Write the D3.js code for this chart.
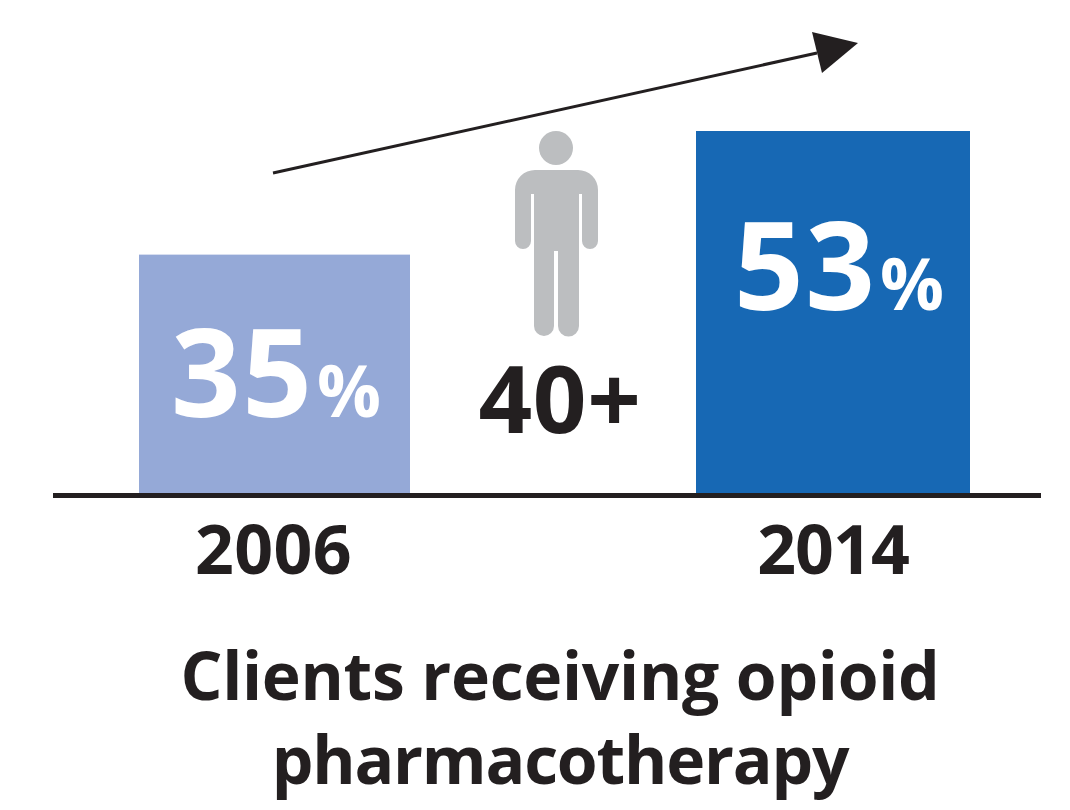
<!DOCTYPE html>
<html><head><meta charset="utf-8">
<script src="https://cdn.jsdelivr.net/npm/d3@7"></script>
<style>html,body{margin:0;padding:0;background:#fff}svg{display:block}text{font-family:"Open Sans",sans-serif;fill:#231f20;font-weight:700}</style>
</head><body><svg id="c" width="1070" height="810"></svg>
<script>
const years = ["2006", "2014"];
const shares = [35, 53];
const barColors = ["#95a9d7", "#1768b4"];
const ageLabel = "40+";
const titleLines = ["Clients receiving opioid", "pharmacotherapy"];

const svg = d3.select("#c");
const baseY = 495;
const y = d3.scaleLinear().domain([0, 53]).range([baseY, 131]);
const barLeft = d3.scaleOrdinal().domain(years).range([139, 696]);
const barWidth = d3.scaleOrdinal().domain(years).range([271, 274]);

svg.selectAll("rect.bar").data(years).join("rect").attr("class", "bar")
  .attr("x", d => barLeft(d)).attr("width", d => barWidth(d))
  .attr("y", (d, i) => y(shares[i])).attr("height", (d, i) => baseY - y(shares[i]))
  .attr("fill", (d, i) => barColors[i]);

svg.append("line").attr("x1", 53).attr("x2", 1041).attr("y1", baseY + 0.5).attr("y2", baseY + 0.5)
  .attr("stroke", "#231f20").attr("stroke-width", 5);

// Value labels: large number with a smaller percent sign
const valueBase = [417, 310];
const valueX = [171, 734];
const percentX = [317, 880];
years.forEach((yr, i) => {
  svg.append("text").attr("x", valueX[i]).attr("y", valueBase[i]).style("fill", "#fff")
    .attr("font-size", 122).attr("letter-spacing", 1.5).text(shares[i]);
  svg.append("text").attr("x", percentX[i]).attr("y", valueBase[i]).style("fill", "#fff")
    .attr("font-size", 71).text("%");
});

svg.selectAll("text.year").data(years).join("text").attr("class", "year")
  .attr("x", (d, i) => [273.5, 833][i]).attr("y", 574).attr("text-anchor", "middle")
  .attr("font-size", 68).attr("letter-spacing", (d, i) => [0.4, -1][i]).text(d => d);

svg.append("text").attr("x", 560).attr("y", 433).attr("text-anchor", "middle")
  .attr("font-size", 94).attr("letter-spacing", 0.6).text(ageLabel);

svg.selectAll("text.title").data(titleLines).join("text").attr("class", "title")
  .attr("x", 560).attr("y", (d, i) => [700, 784][i]).attr("text-anchor", "middle")
  .attr("font-size", 66).attr("letter-spacing", (d, i) => [-0.3, -1.2][i]).text(d => d);

// Trend arrow
svg.append("line").attr("x1", 273).attr("y1", 173).attr("x2", 817).attr("y2", 53)
  .attr("stroke", "#231f20").attr("stroke-width", 3);
svg.append("path").attr("d", "M812,32L858,43L822,73Z").attr("fill", "#231f20");

// Person icon
const g = svg.append("g").attr("fill", "#bcbec0");
g.append("circle").attr("cx", 556).attr("cy", 148).attr("r", 17);
g.append("path").attr("d", "M535,170H578A20,20 0 0 1 598,190V241A8,8 0 0 1 582,241V194H579V326A10,10 0 0 1 558,326V251H554V326A10,10 0 0 1 534,326V194H531V241A8,8 0 0 1 515,241V190A20,20 0 0 1 535,170Z");
</script></body></html>
